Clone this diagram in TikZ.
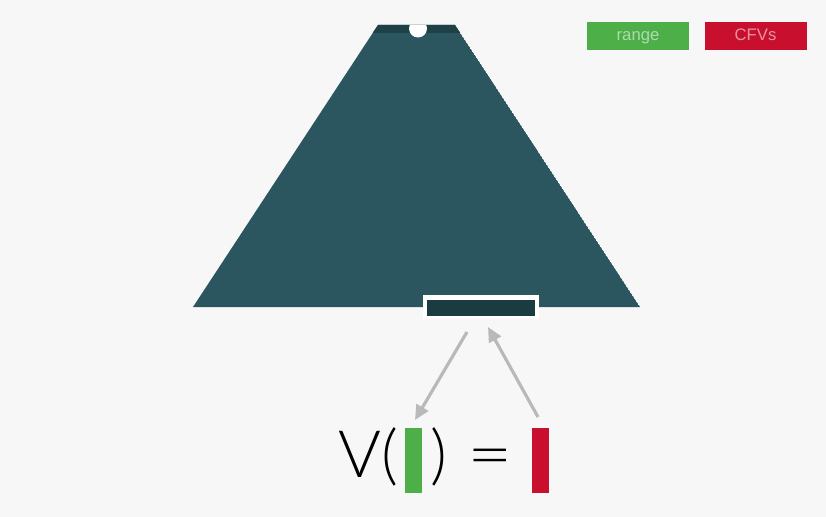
\documentclass[tikz,border=0pt]{standalone}
\usepackage{fontspec}
\setmainfont{Lato}
\newfontfamily\lightfont{Lato Light}
\newfontfamily\legendfont{Liberation Sans}
\usetikzlibrary{arrows.meta}
\definecolor{bgc}{RGB}{247,247,247}
\definecolor{teal}{RGB}{43,85,95}
\definecolor{tealdark}{RGB}{30,64,70}
\definecolor{boxdark}{RGB}{26,60,64}
\definecolor{gr}{RGB}{76,175,72}
\definecolor{rd}{RGB}{200,16,46}
\definecolor{arrowgray}{RGB}{185,185,185}
\tikzset{
  legendbox/.style={minimum width=76.5pt, minimum height=21pt, inner sep=0pt, text height=9pt, text depth=2.6pt, font=\legendfont\fontsize{12.5}{14}\selectfont, text=white, text opacity=0.55},
  eqtext/.style={inner sep=0pt, font=\lightfont\fontsize{49}{55}\selectfont, text=black, anchor=base west},
  bar/.style={inner sep=0pt, minimum width=12.75pt, minimum height=48.75pt},
  grayarrow/.style={draw=arrowgray, line width=2.4pt, -{Triangle[length=11pt,width=10pt]}}
}
\begin{document}
\begin{tikzpicture}[x=0.75pt, y=-0.75pt]
\fill[bgc] (0,0) rectangle (826,517);
\useasboundingbox (0,0) rectangle (826,517);
% trapezoid
\begin{scope}
\clip (193,307) -- (378,25) -- (455,25) -- (640,307) -- cycle;
\fill[teal] (193,307) -- (378,25) -- (455,25) -- (640,307) -- cycle;
\fill[tealdark] (150,20) rectangle (700,33);
\fill[white] (418,28.5) circle (9);
\end{scope}
% bottom box
\fill[white] (423,295) rectangle (539,318);
\node[fill=boxdark, inner sep=0pt, minimum width=81pt, minimum height=12pt] (box) at (481,307.5) {};
% legend
\node[legendbox, fill=gr] (range) at (638,36) {range};
\node[legendbox, fill=rd] (cfvs) at (755.5,36) {CFVs};
% equation
\node[eqtext] (V) at (338,477) {V(};
\node[bar, fill=gr] (gbar) at (413.5,460.5) {};
\node[eqtext] (rp) at (430,477) {)};
\node[eqtext, xscale=1.2] (eq) at (467,477) {=};
\node[bar, fill=rd] (rbar) at (540,460.5) {};
% arrows
\coordinate (a1s) at (467,332);
\coordinate (a1e) at (415,420);
\coordinate (a2s) at (538,417);
\coordinate (a2e) at (488,327);
\draw[grayarrow] (a1s) -- (a1e);
\draw[grayarrow] (a2s) -- (a2e);
\end{tikzpicture}
\end{document}
